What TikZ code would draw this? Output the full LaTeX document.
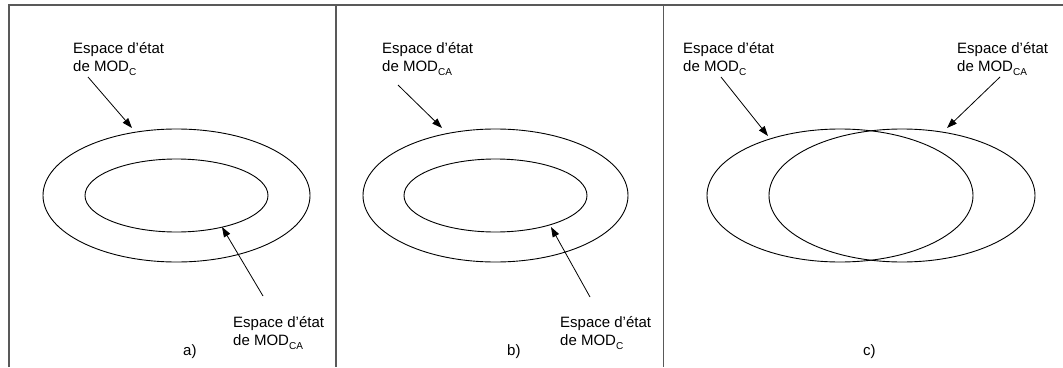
\documentclass[tikz,border=0pt]{standalone}
\usepackage{fontspec}
\setmainfont{Liberation Sans}
\usetikzlibrary{arrows.meta}
\usetikzlibrary{positioning}

\newcommand{\modsub}[1]{\raisebox{-4pt}{\fontsize{10}{10}\selectfont #1}}

\tikzset{
    lbl/.style={anchor=north west, inner sep=0pt, align=left, font=\fontsize{15}{18}\selectfont},
    tag/.style={anchor=base west, inner sep=0pt, font=\fontsize{15}{18}\selectfont},
    arr/.style={-{Triangle[length=10pt,width=7pt]}, line width=0.8pt},
    frame/.style={draw=black!65, line width=1.3pt},
    ell/.style={draw=black, line width=0.9pt}
}

\begin{document}
\begin{tikzpicture}[x=1pt,y=-1pt]
            \useasboundingbox (0,0) rectangle (1063,367);

            % frame
            \draw[frame] (9,367) -- (9,5) -- (1063,5);
            \draw[frame] (336,5) -- (336,367);
            \draw[frame] (663.5,5) -- (663.5,367);

            % a)
            \draw[ell] (176.5,195.5) ellipse (133.5 and 66.5);
            \draw[ell] (176.5,195.5) ellipse (91.5 and 36.5);
            \node[lbl] (la1) at (73,42) {Espace d’état\\de MOD\modsub{C}};
            \node[lbl] (la2) at (233,316) {Espace d’état\\de MOD\modsub{CA}};
            \node[tag] (ta) at (183,355) {a)};
            \coordinate (a1) at (88,77);
            \coordinate (a1t) at (132,128);
            \coordinate (a2) at (263,296);
            \coordinate (a2t) at (222,227);
            \draw[arr] (a1) -- (a1t);
            \draw[arr] (a2) -- (a2t);

            % b)
            \draw[ell] (495.5,195.5) ellipse (132.5 and 66.5);
            \draw[ell] (495.5,195.5) ellipse (91.5 and 36.5);
            \node[lbl] (lb1) at (382,42) {Espace d’état\\de MOD\modsub{CA}};
            \node[lbl] (lb2) at (560,316) {Espace d’état\\de MOD\modsub{C}};
            \node[tag] (tb) at (507,355) {b)};
            \coordinate (b1) at (398,85);
            \coordinate (b1t) at (442,128);
            \coordinate (b2) at (590,297);
            \coordinate (b2t) at (551,227);
            \draw[arr] (b1) -- (b1t);
            \draw[arr] (b2) -- (b2t);

            % c)
            \draw[ell] (840,195.5) ellipse (133 and 66.5);
            \draw[ell] (902,195.5) ellipse (133 and 66.5);
            \node[lbl] (lc1) at (683,42) {Espace d’état\\de MOD\modsub{C}};
            \node[lbl] (lc2) at (957,42) {Espace d’état\\de MOD\modsub{CA}};
            \node[tag] (tc) at (863,355) {c)};
            \coordinate (c1) at (721,77);
            \coordinate (c1t) at (768,136);
            \coordinate (c2) at (1000,77);
            \coordinate (c2t) at (947,128);
            \draw[arr] (c1) -- (c1t);
            \draw[arr] (c2) -- (c2t);
\end{tikzpicture}
\end{document}
